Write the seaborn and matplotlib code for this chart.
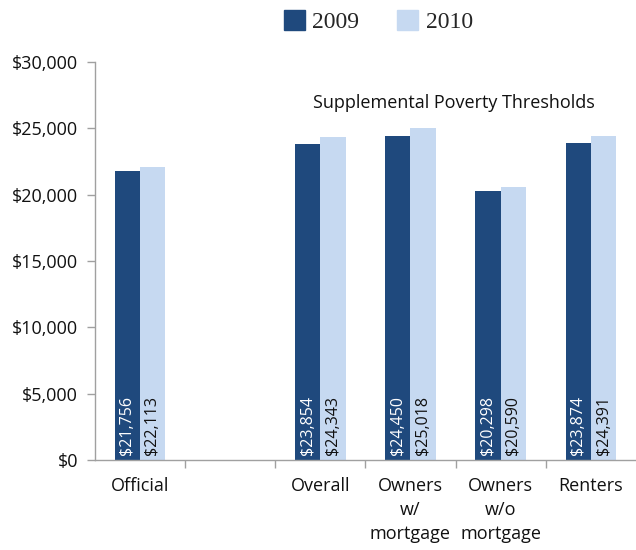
import matplotlib
matplotlib.use("Agg")
import matplotlib.pyplot as plt
import matplotlib.patches as mpatches
import pandas as pd
import seaborn as sns

# Chart data
categories = ["Official", "", "Overall", "Owners\nw/\nmortgage", "Owners\nw/o\nmortgage", "Renters"]
years = ["2009", "2010"]
values_2009 = [21756, None, 23854, 24450, 20298, 23874]
values_2010 = [22113, None, 24343, 25018, 20590, 24391]

dark = "#1F497D"
light = "#C6D9F1"

rows = []
for cat, v9, v10 in zip(categories, values_2009, values_2010):
    if v9 is not None:
        rows.append({"category": cat, "year": "2009", "value": v9})
        rows.append({"category": cat, "year": "2010", "value": v10})
df = pd.DataFrame(rows)

sns.set_style("white")
plt.rcParams['font.family'] = ['Open Sans', 'DejaVu Sans']

fig = plt.figure(figsize=(6.36, 5.5), dpi=100)
ax = fig.add_axes([0.149, 0.1636, 0.851, 0.7236])

sns.barplot(data=df, x="category", y="value", hue="year", order=categories,
            hue_order=years, palette=[dark, light], width=0.56, ax=ax,
            legend=False, saturation=1, linewidth=0, edgecolor="none")

# value labels inside the bars, at the bottom
for container, color in zip(ax.containers, ["white", "#111111"]):
    for bar in container:
        h = bar.get_height()
        if h != h or h == 0:
            continue
        ax.text(bar.get_x() + bar.get_width() / 2, 400, "${:,.0f}".format(h),
                rotation=90, ha="center", va="bottom", color=color, fontsize=11.5)

ax.set_ylim(0, 30000)
ax.set_xlim(-0.5, len(categories) - 0.5)
ax.set_yticks(range(0, 30001, 5000))
ax.set_yticklabels(["${:,}".format(v) for v in range(0, 30001, 5000)], fontsize=13)
ax.set_xlabel("")
ax.set_ylabel("")

# ticks between categories, labels at centers
ax.set_xticks([i + 0.5 for i in range(len(categories) - 1)])
ax.set_xticklabels([])
ax.set_xticks(range(len(categories)), minor=True)
ax.set_xticklabels(categories, minor=True, fontsize=13, linespacing=1.45, va="top")
ax.tick_params(axis="x", which="minor", bottom=True, length=0, pad=12)
ax.tick_params(axis="x", which="major", bottom=True, length=6, width=1, color="#A0A0A0", direction="out")
ax.tick_params(axis="y", left=True, length=6, width=1, color="#A0A0A0", direction="out", pad=6)
ax.tick_params(axis="both", which="both", labelcolor="#111111")

sns.despine(ax=ax, top=True, right=True)
for side in ["left", "bottom"]:
    ax.spines[side].set_color("#A0A0A0")
    ax.spines[side].set_linewidth(1)

ax.text(3.48, 26900, "Supplemental Poverty Thresholds", ha="center", va="center",
        fontsize=13, color="#111111")

handles = [mpatches.Patch(color=dark, label="2009"), mpatches.Patch(color=light, label="2010")]
fig.legend(handles=handles, loc="upper center", bbox_to_anchor=(0.595, 1.02), ncol=2,
           frameon=False, prop={"family": "Liberation Serif", "size": 17},
           handlelength=0.9, handleheight=0.9, columnspacing=1.6, handletextpad=0.3)

fig.savefig("out.png", dpi=100)
